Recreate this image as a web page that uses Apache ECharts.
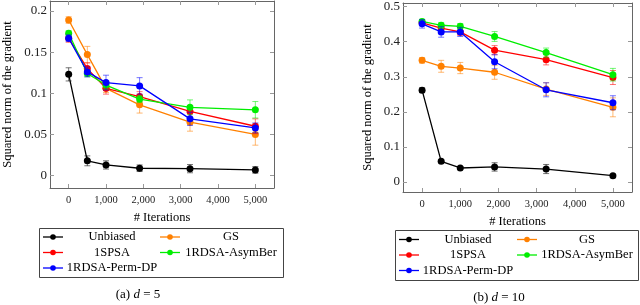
<!DOCTYPE html>
<html><head><meta charset="utf-8">
<script src="https://cdn.jsdelivr.net/npm/echarts@6/dist/echarts.min.js"></script>
<style>html,body{margin:0;padding:0;background:#fff}#c{width:640px;height:305px}</style>
</head><body><div id="c"></div>
<script>
// ---- data ----
const iterations = [0, 500, 1000, 1900, 3250, 5000];
const seriesNames = ['Unbiased', 'GS', '1SPSA', '1RDSA-AsymBer', '1RDSA-Perm-DP'];
const seriesColors = ['#000000', '#ff8000', '#ff0000', '#00ee00', '#0000ff'];

// d = 5
const d5_unbiased = [0.123, 0.018, 0.013, 0.009, 0.0085, 0.007];
const d5_gs       = [0.189, 0.147, 0.106, 0.086, 0.065, 0.050];
const d5_spsa     = [0.167, 0.130, 0.106, 0.096, 0.078, 0.060];
const d5_asym     = [0.173, 0.124, 0.110, 0.093, 0.083, 0.080];
const d5_perm     = [0.167, 0.126, 0.113, 0.109, 0.069, 0.058];
const d5_err_unbiased = [0.008, 0.006, 0.005, 0.004, 0.005, 0.004];
const d5_err_gs       = [0.004, 0.010, 0.005, 0.010, 0.011, 0.013];
const d5_err_spsa     = [0.005, 0.007, 0.007, 0.006, 0.007, 0.009];
const d5_err_asym     = [0.003, 0.004, 0.005, 0.004, 0.009, 0.010];
const d5_err_perm     = [0.004, 0.006, 0.009, 0.010, 0.008, 0.006];

// d = 10
const d10_unbiased = [0.262, 0.059, 0.040, 0.043, 0.037, 0.018];
const d10_gs       = [0.347, 0.330, 0.325, 0.313, 0.265, 0.213];
const d10_spsa     = [0.454, 0.439, 0.428, 0.376, 0.349, 0.298];
const d10_asym     = [0.458, 0.447, 0.444, 0.415, 0.369, 0.306];
const d10_perm     = [0.451, 0.428, 0.428, 0.343, 0.263, 0.226];
const d10_err_unbiased = [0.007, 0.004, 0.004, 0.012, 0.013, 0.004];
const d10_err_gs       = [0.008, 0.017, 0.016, 0.020, 0.018, 0.027];
const d10_err_spsa     = [0.007, 0.010, 0.010, 0.013, 0.015, 0.020];
const d10_err_asym     = [0.006, 0.008, 0.008, 0.014, 0.013, 0.018];
const d10_err_perm     = [0.012, 0.015, 0.013, 0.020, 0.020, 0.020];

const xTicks = [0, 1000, 2000, 3000, 4000, 5000];
const yTicksD5 = [0, 0.05, 0.1, 0.15, 0.2];
const yTicksD10 = [0, 0.1, 0.2, 0.3, 0.4, 0.5];
const yLabel = 'Squared norm of the gradient';
const xLabel = '# Iterations';
const captions = ['(a) ', '(b) '];
const captionVals = ['5', '10'];

// ---- build ----
const FONT = 'Liberation Serif';
const valuesD5 = [d5_unbiased, d5_gs, d5_spsa, d5_asym, d5_perm];
const errsD5 = [d5_err_unbiased, d5_err_gs, d5_err_spsa, d5_err_asym, d5_err_perm];
const valuesD10 = [d10_unbiased, d10_gs, d10_spsa, d10_asym, d10_perm];
const errsD10 = [d10_err_unbiased, d10_err_gs, d10_err_spsa, d10_err_asym, d10_err_perm];

function fmtX(v) { return v >= 1000 ? (v / 1000) + ',000' : String(v); }

function hexA(hex, a) {
  const n = parseInt(hex.slice(1), 16);
  return 'rgba(' + ((n >> 16) & 255) + ',' + ((n >> 8) & 255) + ',' + (n & 255) + ',' + a + ')';
}

const frameColor = '#666';
const tickColor = '#999';

function xAxes(gridIndex) {
  return [
    { type: 'value', gridIndex, position: 'bottom', min: -500, max: 5500,
      name: xLabel, nameLocation: 'middle', nameGap: 23,
      nameTextStyle: { fontFamily: FONT, fontSize: 12.5, color: '#000' },
      axisLine: { show: true, onZero: false, lineStyle: { color: frameColor, width: 1 } },
      axisTick: { show: true, inside: true, length: 4, customValues: xTicks, lineStyle: { color: tickColor } },
      axisLabel: { show: true, customValues: xTicks, formatter: fmtX, margin: 7, fontFamily: FONT, fontSize: 10.5, color: '#222' },
      splitLine: { show: false } },
    { type: 'value', gridIndex, position: 'top', min: -500, max: 5500,
      axisLine: { show: true, onZero: false, lineStyle: { color: frameColor, width: 1 } },
      axisTick: { show: true, inside: true, length: 4, customValues: xTicks, lineStyle: { color: tickColor } },
      axisLabel: { show: false }, splitLine: { show: false } }
  ];
}
function yAxes(gridIndex, min, max, ticks, gap) {
  return [
    { type: 'value', gridIndex, position: 'left', min, max,
      name: yLabel, nameLocation: 'middle', nameGap: gap, nameRotate: 90,
      nameTextStyle: { fontFamily: FONT, fontSize: 12.5, color: '#000' },
      axisLine: { show: true, onZero: false, lineStyle: { color: frameColor, width: 1 } },
      axisTick: { show: true, inside: true, length: 4, customValues: ticks, lineStyle: { color: tickColor } },
      axisLabel: { show: true, customValues: ticks, formatter: v => String(+v.toFixed(3)), margin: 3, fontFamily: FONT, fontSize: 13, color: '#222' },
      splitLine: { show: false } },
    { type: 'value', gridIndex, position: 'right', min, max,
      axisLine: { show: true, onZero: false, lineStyle: { color: frameColor, width: 1 } },
      axisTick: { show: true, inside: true, length: 4, customValues: ticks, lineStyle: { color: tickColor } },
      axisLabel: { show: false }, splitLine: { show: false } }
  ];
}

function errorRender(color) {
  return function (params, api) {
    const x = api.value(0), y = api.value(1), e = api.value(2);
    const top = api.coord([x, y + e]);
    const bot = api.coord([x, y - e]);
    const style = { stroke: hexA(color, 0.55), lineWidth: 1 };
    const w = 3;
    return { type: 'group', children: [
      { type: 'line', shape: { x1: top[0], y1: top[1], x2: bot[0], y2: bot[1] }, style },
      { type: 'line', shape: { x1: top[0] - w, y1: top[1], x2: top[0] + w, y2: top[1] }, style },
      { type: 'line', shape: { x1: bot[0] - w, y1: bot[1], x2: bot[0] + w, y2: bot[1] }, style }
    ] };
  };
}

const series = [];
function addPanel(values, errs, xIdx, yIdx) {
  values.forEach((vals, i) => {
    const col = seriesColors[i];
    series.push({
      type: 'custom', name: seriesNames[i] + '_err', xAxisIndex: xIdx, yAxisIndex: yIdx,
      renderItem: errorRender(col), silent: true, z: 2 + i * 2,
      data: iterations.map((x, k) => [x, vals[k], errs[i][k]])
    });
    series.push({
      type: 'line', name: seriesNames[i], xAxisIndex: xIdx, yAxisIndex: yIdx,
      data: iterations.map((x, k) => [x, vals[k]]),
      symbol: 'circle', symbolSize: 7, showSymbol: true, z: 3 + i * 2,
      lineStyle: { color: col, width: 1.3 }, itemStyle: { color: col },
      animation: false
    });
  });
}
addPanel(valuesD5, errsD5, 0, 0);
addPanel(valuesD10, errsD10, 2, 2);

// legends (graphic boxes)
function legendGraphic(box, cols, rows) {
  const els = [{ type: 'rect', shape: { x: box.x, y: box.y, width: box.w, height: box.h },
    style: { fill: '#fff', stroke: '#444', lineWidth: 1 }, z: 50 }];
  seriesNames.forEach((nm, i) => {
    const c = cols[i % 2], ry = rows[Math.floor(i / 2)];
    els.push({ type: 'line', shape: { x1: c.ix, y1: ry, x2: c.ix + 20, y2: ry },
      style: { stroke: seriesColors[i], lineWidth: 1.3 }, z: 51 });
    els.push({ type: 'circle', shape: { cx: c.ix + 10, cy: ry, r: 2.8 },
      style: { fill: seriesColors[i] }, z: 52 });
    els.push({ type: 'text', x: c.tx, y: ry, z: 52,
      style: { text: nm, fontFamily: FONT, fontSize: 12.5, fill: '#000', align: 'center', verticalAlign: 'middle' } });
  });
  return els;
}
const graphics = [].concat(
  legendGraphic({ x: 39.5, y: 228.5, w: 244, h: 49 },
    [{ ix: 43, tx: 112 }, { ix: 160, tx: 231 }], [237, 252.5, 268]),
  legendGraphic({ x: 395.5, y: 230.5, w: 243, h: 50 },
    [{ ix: 399, tx: 468 }, { ix: 517, tx: 587 }], [239.5, 255, 270.5])
);

const capStyle = { fontFamily: FONT, fontSize: 13, fontWeight: 'normal', color: '#000',
  rich: { i: { fontFamily: FONT, fontStyle: 'italic', fontSize: 13 } } };

const chart = echarts.init(document.getElementById('c'), null, { renderer: 'canvas' });
chart.setOption({
  animation: false,
  backgroundColor: '#fff',
  title: [
    { text: captions[0] + '{i|d} = ' + captionVals[0], left: 138, top: 288, padding: 0, textAlign: 'center', textStyle: capStyle },
    { text: captions[1] + '{i|d} = ' + captionVals[1], left: 499, top: 291, padding: 0, textAlign: 'center', textStyle: capStyle }
  ],
  grid: [
    { left: 48, top: 1, width: 226, height: 187 },
    { left: 403, top: 3, width: 229, height: 189 }
  ],
  xAxis: [].concat(xAxes(0), xAxes(1)),
  yAxis: [].concat(yAxes(0, -0.015, 0.2121, yTicksD5, 36), yAxes(1, -0.0285, 0.5105, yTicksD10, 29)),
  series,
  graphic: graphics
});
</script></body></html>
